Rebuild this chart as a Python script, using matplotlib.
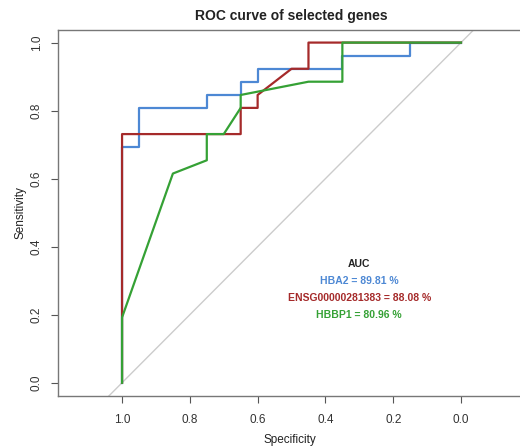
import matplotlib
matplotlib.use("Agg")
import matplotlib.pyplot as plt

plt.rcParams["font.family"] = ["Liberation Sans", "DejaVu Sans"]

# ROC coordinates (specificity, sensitivity)
hba2_spec = [1.0, 1.0, 0.95, 0.95, 0.75, 0.75, 0.65, 0.65, 0.60, 0.60, 0.35, 0.35, 0.15, 0.15, 0.0]
hba2_sens = [0.0, 0.692, 0.692, 0.808, 0.808, 0.846, 0.846, 0.885, 0.885, 0.923, 0.923, 0.962, 0.962, 1.0, 1.0]

ensg_spec = [1.0, 1.0, 0.65, 0.65, 0.60, 0.60, 0.50, 0.45, 0.45, 0.0]
ensg_sens = [0.0, 0.731, 0.731, 0.808, 0.808, 0.846, 0.923, 0.923, 1.0, 1.0]

hbbp1_spec = [1.0, 1.0, 0.85, 0.75, 0.75, 0.70, 0.65, 0.65, 0.45, 0.35, 0.35, 0.0]
hbbp1_sens = [0.0, 0.192, 0.615, 0.654, 0.731, 0.731, 0.808, 0.846, 0.885, 0.885, 1.0, 1.0]

genes = ["HBA2", "ENSG00000281383", "HBBP1"]
auc = [89.81, 88.08, 80.96]
colors = ["#4d88d4", "#a52a2a", "#35a135"]

fig = plt.figure(figsize=(5.2, 4.48), dpi=100)
ax = fig.add_axes([58 / 520, 1 - 396 / 448, 464 / 520, 366 / 448])

ax.plot([1.2, -0.2], [-0.2, 1.2], color="#cccccc", lw=1.0, zorder=1)
curves = [(hba2_spec, hba2_sens), (ensg_spec, ensg_sens), (hbbp1_spec, hbbp1_sens)]
for (sp, se), c in zip(curves, colors):
    ax.plot(sp, se, color=c, lw=1.6, zorder=2)

ax.set_xlim(1.189, -0.180)
ax.set_ylim(-0.039, 1.037)

ax.text(0.3, 0.35, "AUC", ha="center", va="center", fontsize=7.5, fontweight="bold", color="#222222")
for i, (g, a, c) in enumerate(zip(genes, auc, colors)):
    ax.text(0.3, 0.30 - 0.05 * i, f"{g} = {a:.2f} %", ha="center", va="center",
            fontsize=7.5, fontweight="bold", color=c)

ticks = [1.0, 0.8, 0.6, 0.4, 0.2, 0.0]
ax.set_xticks(ticks)
ax.set_xticklabels([f"{t:.1f}" for t in ticks])
ax.set_yticks(ticks)
ax.set_yticklabels([f"{t:.1f}" for t in ticks], rotation=90, va="center")
ax.tick_params(direction="out", length=5, width=0.8, color="#555555",
               labelsize=8.5, labelcolor="#333333")
ax.tick_params(axis="x", pad=8)
ax.tick_params(axis="y", pad=6)
for s in ax.spines.values():
    s.set_color("#777777")
    s.set_linewidth(1.0)
ax.spines["right"].set_visible(False)

ax.set_xlabel("Specificity", fontsize=8.5, color="#222222", labelpad=6)
ax.set_ylabel("Sensitivity", fontsize=8.5, color="#222222", labelpad=3)
fig.text(291 / 520, 1 - 16 / 448, "ROC curve of selected genes", ha="center", va="center",
         fontsize=10, fontweight="bold", color="#222222")

fig.savefig("out.png", dpi=100)
